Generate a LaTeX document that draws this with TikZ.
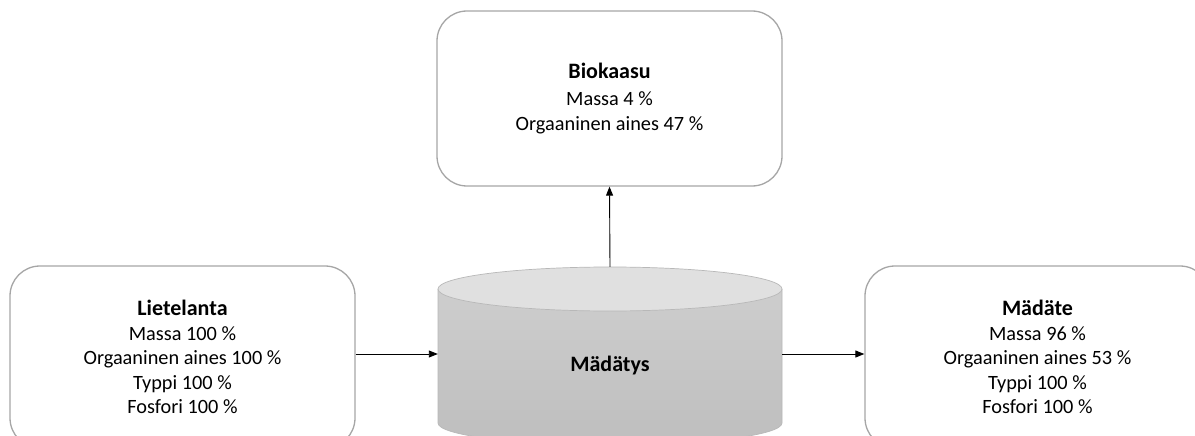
\documentclass[tikz,border=0pt]{standalone}
\usepackage{fontspec}
\setmainfont{Carlito}
\usetikzlibrary{arrows.meta}
\definecolor{boxline}{HTML}{A6A6A6}
\definecolor{cyltop}{HTML}{E0E0E0}
\definecolor{cylbody}{HTML}{C8C8C8}
\newcommand{\ttlfont}{\bfseries\fontsize{22}{25}\selectfont}
\tikzset{
  box/.style={draw=boxline, line width=1.3pt, rounded corners=30pt, fill=white,
    minimum width=345pt, align=center, inner sep=0pt,
    font=\fontsize{20.3}{24.6}\selectfont},
  arr/.style={-{Triangle[length=9pt,width=7pt]}, line width=0.9pt, black},
  cylline/.style={draw=boxline!80, line width=0.7pt},
  ttl/.style={font=\ttlfont}
}
\begin{document}
\begin{tikzpicture}[x=1pt,y=-1pt]
\clip (0,0) rectangle (1195,436);
\fill[white] (0,0) rectangle (1195,436);
% boxes
\node[box, minimum height=175pt] (bio) at (609.5,98.5)
  {{\ttlfont Biokaasu}\\[2pt]Massa 4 \%\\Orgaaninen aines 47 \%};
\node[box, minimum height=182pt] (liete) at (182.5,357)
  {{\ttlfont Lietelanta}\\Massa 100 \%\\Orgaaninen aines 100 \%\\Typpi 100 \%\\Fosfori 100 \%};
\node[box, minimum height=182pt] (madate) at (1037.5,357)
  {{\ttlfont Mädäte}\\Massa 96 \%\\Orgaaninen aines 53 \%\\Typpi 100 \%\\Fosfori 100 \%};
% cylinder
\shade[top color=cylbody!90!white, bottom color=cylbody!95!black]
  (438,289) -- (438,423) arc[start angle=180, end angle=0, x radius=172, y radius=22] -- (782,289) -- cycle;
\draw[cylline] (438,289) -- (438,423) arc[start angle=180, end angle=0, x radius=172, y radius=22] -- (782,289);
\draw[cylline, fill=cyltop] (610,289) ellipse[x radius=172, y radius=22];
\node[inner sep=0pt, minimum width=344pt, minimum height=174pt] (cyl) at (610,354) {};
\node[ttl] (madatys) at (610,366) {Mädätys};
% connectors
\draw[arr] (liete.east |- cyl.west) -- (cyl.west);
\draw[arr] (cyl.east) -- (madate.west |- cyl.east);
\draw[arr] (cyl.north) -- (bio.south);
\end{tikzpicture}
\end{document}
